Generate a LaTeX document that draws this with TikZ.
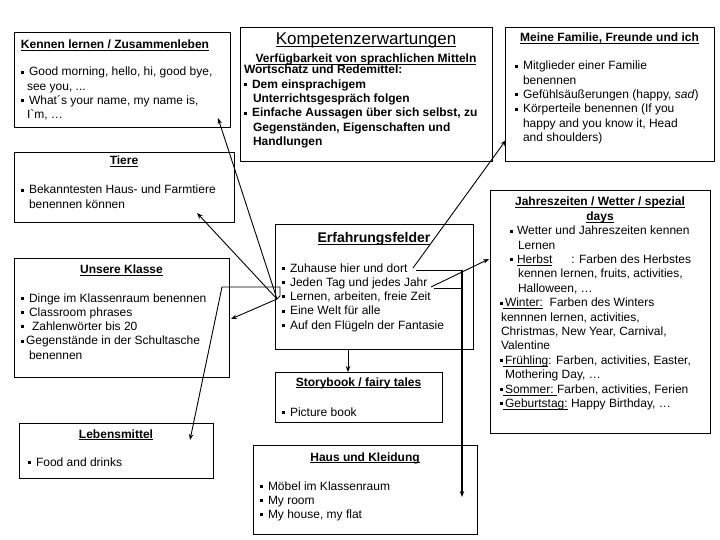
\documentclass[tikz,border=0pt]{standalone}
\usepackage{fontspec}
\setmainfont{Liberation Sans}
\usetikzlibrary{arrows.meta}

\newsavebox{\ulbox}
\newcommand{\sqb}{\rule[0.18em]{0.25em}{0.25em}}
\newcommand{\uln}[1]{\leavevmode\sbox\ulbox{#1}\rlap{\vrule width\wd\ulbox height-1.4pt depth2.3pt}\usebox\ulbox}
\newcommand{\neu}[1]{\par\hangindent=#1\hangafter=1\noindent}
\newcommand{\itm}[1][8pt]{\neu{#1}\makebox[8pt][l]{\sqb}}
\newcommand{\ttl}[1]{\uln{\bfseries#1}}
\newcommand{\titel}[1]{{\centering\rule{0pt}{11pt}\ttl{#1}\par}}
\newcommand{\feldinhalt}[4]{%
  \begin{minipage}[t][#2][t]{#1}\vspace*{#3}\raggedright#4\end{minipage}}

\begin{document}
\begin{tikzpicture}[x=1pt,y=-1pt,
  feld/.style={draw, line width=0.8pt, inner xsep=7pt, inner ysep=0pt, outer sep=0pt, anchor=north west,
    font=\fontsize{12}{14.3}\selectfont},
  linie/.style={line width=0.9pt},
  pfeil/.style={line width=0.9pt, -{Stealth[length=6pt,width=4.5pt]}},
  ]
\useasboundingbox[fill=white] (0,0) rectangle (720,540);

%Boxes
\node[feld] (kennen) at (14,32) {\feldinhalt{202pt}{95pt}{6pt}{%
  {\centering\rule{0pt}{11pt}\hspace*{-14pt}\ttl{Kennen lernen / Zusammenleben}\par}\vspace{12.7pt}
  \itm[6pt]Good morning, hello, hi, good bye,\newline see you, ...
  \itm[6pt]What´s your name, my name is,\newline I\textasciigrave m, …}};

\node[feld, inner xsep=4pt] (kompetenz) at (240,27) {\feldinhalt{244pt}{134pt}{5pt}{\bfseries
  {\centering\rule{0pt}{13pt}\uln{\mdseries\fontsize{17}{14.3}\selectfont Kompetenzerwartungen}\par}
  \vspace{3pt}
  {\centering\uln{Verfügbarkeit von sprachlichen Mitteln}\par}
  \vspace{-3pt}
  Wortschatz und Redemittel:\par
  \vspace{0.5pt}
  \itm[9pt]Dem einsprachigem\newline Unterrichtsgespräch folgen
  \itm[9pt]Einfache Aussagen über sich selbst, zu\newline Gegenständen, Eigenschaften und\newline Handlungen}};

\node[feld, inner xsep=10pt] (familie) at (505,27) {\feldinhalt{189pt}{134pt}{4pt}{%
  \titel{Meine Familie, Freunde und ich}\vspace{13.7pt}
  \itm Mitglieder einer Familie\newline benennen
  \itm Gefühlsäußerungen (happy, \textit{sad})
  \itm Körperteile benennen (If you\newline happy and you know it, Head\newline and shoulders)}};

\node[feld] (tiere) at (14,152) {\feldinhalt{206pt}{70pt}{2pt}{%
  \titel{Tiere}\vspace{14.7pt}
  \itm Bekanntesten Haus- und Farmtiere\newline benennen können}};

\node[feld, inner xsep=10pt, font=\fontsize{12}{14.4}\selectfont] (jahr) at (490,190) {\feldinhalt{200pt}{243pt}{5pt}{%
  {\centering\rule{0pt}{11pt}\ttl{Jahreszeiten / Wetter / spezial}\\ \ttl{days}\par}
  \neu{18pt}\hspace*{10pt}\makebox[7pt][l]{\sqb}Wetter und Jahreszeiten kennen\newline Lernen
  \neu{18pt}\hspace*{10pt}\makebox[7pt][l]{\sqb}\uln{Herbst}\hspace{19pt}: Farben des Herbstes\newline kennen lernen, fruits, activities,\newline Halloween, …
  \neu{1pt}\sqb\uln{\,Winter:}\ \ Farben des Winters\newline kennnen lernen, activities,\newline Christmas, New Year, Carnival,\newline Valentine
  \neu{5pt}\sqb\uln{\,Frühling}: Farben, activities, Easter,\newline Mothering Day, …
  \neu{5pt}\sqb\uln{\,Sommer:\ }Farben, activities, Ferien
  \neu{5pt}\sqb\uln{\,Geburtstag:}\ Happy Birthday, …}};

\node[feld] (erfahrung) at (275,224) {\feldinhalt{184pt}{125pt}{8pt}{%
  {\centering\rule{0pt}{11pt}\ttl{\fontsize{14}{14.3}\selectfont Erfahrungsfelder}\par}\vspace{14.7pt}
  \itm Zuhause hier und dort
  \itm Jeden Tag und jedes Jahr
  \itm Lernen, arbeiten, freie Zeit
  \itm Eine Welt für alle
  \itm Auf den Flügeln der Fantasie}};

\node[feld] (klasse) at (14,258) {\feldinhalt{201pt}{119pt}{5pt}{%
  \titel{Unsere Klasse}\vspace{13.7pt}
  \itm Dinge im Klassenraum benennen
  \itm Classroom phrases
  \itm\hspace{3pt}Zahlenwörter bis 20
  \neu{8pt}\sqb\hspace{2pt}Gegenstände in der Schultasche\newline benennen}};

\node[feld] (story) at (275,372) {\feldinhalt{153pt}{50pt}{3pt}{%
  \titel{Storybook / fairy tales}\vspace{15.7pt}
  \itm Picture book}};

\node[feld, inner xsep=9pt] (leben) at (19,423) {\feldinhalt{176pt}{55pt}{4pt}{%
  \titel{Lebensmittel}\vspace{13.7pt}
  \itm Food and drinks}};

\node[feld] (haus) at (253,445) {\feldinhalt{210pt}{89pt}{5pt}{%
  \titel{Haus und Kleidung}\vspace{14.7pt}
  \itm Möbel im Klassenraum
  \itm My room
  \itm My house, my flat}};

%Points
\coordinate (knoten) at (277,299);
\coordinate (zkennen) at (218,118);
\coordinate (ztiere) at (197,213);
\coordinate (zklasse) at (231,319);
\coordinate (knick1) at (280,296);
\coordinate (knick2) at (280,287);
\coordinate (knick3) at (222,287);
\coordinate (zleben) at (190,440);
\coordinate (zuhause) at (413,268);
\coordinate (zfamilie) at (506,140);
\coordinate (jahrende) at (431,287);
\coordinate (zjahr) at (489,259);
\coordinate (zuhause2) at (416,270);
\coordinate (ecke) at (462,270);
\coordinate (ecke2) at (462,288);
\coordinate (jahrende2) at (434,288);
\coordinate (zhaus) at (462,497);

%Lines
\draw[pfeil] (knoten) -- (zkennen);
\draw[pfeil] (knoten) -- (ztiere);
\draw[pfeil] (knoten) -- (zklasse);
\draw[pfeil] (knoten) -- (knick1) -- (knick2) -- (knick3) -- (zleben);
\draw[pfeil] (zuhause) -- (zfamilie);
\draw[pfeil] (jahrende) -- (zjahr);
\draw[linie] (zuhause2) -- (ecke);
\draw[linie] (jahrende2) -- (ecke2);
\draw[pfeil, line width=1.4pt] (ecke) -- (zhaus);
\draw[pfeil] (erfahrung.south -| 348,0) -- (story.north -| 348,0);
\end{tikzpicture}
\end{document}
